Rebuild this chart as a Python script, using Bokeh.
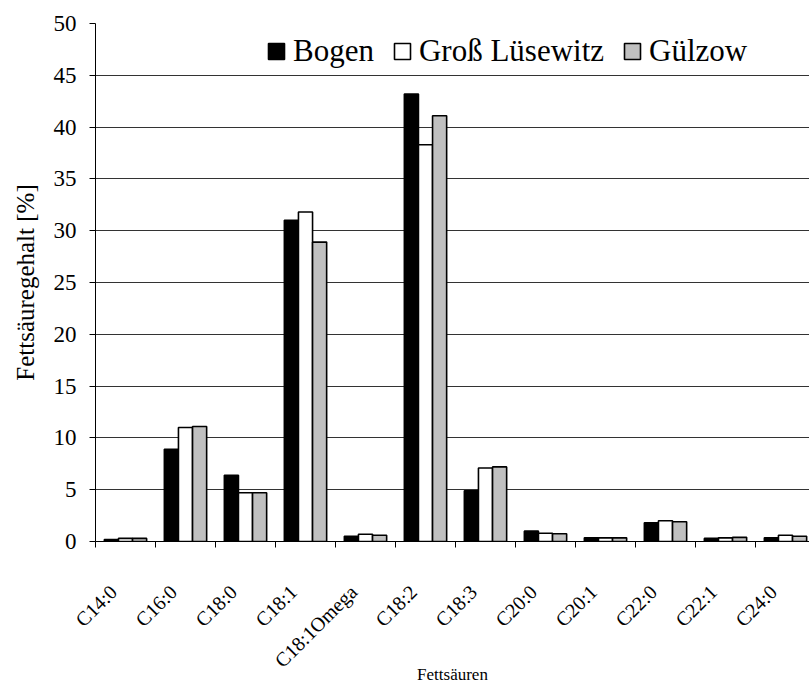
import math
from bokeh.plotting import figure
from bokeh.models import ColumnDataSource, Range1d, FixedTicker, Legend, LegendItem
from bokeh.transform import dodge
from bokeh.embed import file_html
from bokeh.resources import INLINE

# ---- data ----
categories = ["C14:0", "C16:0", "C18:0", "C18:1", "C18:1Omega", "C18:2",
              "C18:3", "C20:0", "C20:1", "C22:0", "C22:1", "C24:0"]
bogen = [0.2, 8.9, 6.4, 31.0, 0.5, 43.2, 4.9, 1.0, 0.35, 1.8, 0.3, 0.35]
gross_luesewitz = [0.3, 11.0, 4.7, 31.8, 0.7, 38.3, 7.1, 0.8, 0.35, 2.0, 0.35, 0.6]
guelzow = [0.3, 11.1, 4.7, 28.9, 0.6, 41.1, 7.2, 0.75, 0.35, 1.9, 0.4, 0.5]
series_names = ["Bogen", "Groß Lüsewitz", "Gülzow"]
y_ticks = [0, 5, 10, 15, 20, 25, 30, 35, 40, 45, 50]
x_title = "Fettsäuren"
y_title = "Fettsäuregehalt [%]"

FONT = "Liberation Serif"

centers = [i + 0.5 for i in range(len(categories))]
boundaries = list(range(len(categories) + 1))
# rotated labels sit a little left of the category centre (as in the reference)
label_pos = [round(c - 0.2, 2) for c in centers]

source = ColumnDataSource(dict(
    xc=centers,
    bogen=bogen,
    gross=gross_luesewitz,
    guelzow=guelzow,
))

p = figure(
    width=809, height=695,
    x_range=Range1d(0, 11.9), y_range=Range1d(0, 50),
    output_backend="svg", toolbar_location=None,
    min_border_left=95, min_border_top=23, min_border_right=0, min_border_bottom=154,
)
p.outline_line_color = None
p.background_fill_color = "white"

bw = 0.235
cols = ["bogen", "gross", "guelzow"]
fills = ["black", "white", "#c0c0c0"]
offsets = [-bw, 0.0, bw]
renderers = []
for col, fc, off in zip(cols, fills, offsets):
    r = p.vbar(x=dodge("xc", off, range=p.x_range), top=col, width=bw, bottom=0,
               source=source, fill_color=fc, line_color="black", line_width=1.6)
    renderers.append(r)

# grid
p.xgrid.visible = False
p.ygrid.ticker = FixedTicker(ticks=y_ticks)
p.ygrid.grid_line_color = "#333333"
p.ygrid.grid_line_width = 1

# y axis
ya = p.yaxis[0]
ya.ticker = FixedTicker(ticks=y_ticks)
ya.axis_label = y_title
ya.axis_label_text_font = FONT
ya.axis_label_text_font_style = "normal"
ya.axis_label_text_font_size = "25px"
ya.axis_label_text_color = "black"
ya.axis_label_standoff = 12
ya.major_label_text_font = FONT
ya.major_label_text_font_size = "23px"
ya.major_label_text_color = "black"
ya.major_label_standoff = 13
ya.major_tick_out = 6
ya.major_tick_in = 0
ya.minor_tick_out = 0
ya.minor_tick_in = 0
ya.axis_line_color = "black"
ya.major_tick_line_color = "black"

# x axis: labels near category centres, tick marks at category boundaries
xa = p.xaxis[0]
xa.ticker = FixedTicker(ticks=label_pos, minor_ticks=boundaries)
xa.major_label_overrides = {c: lab for c, lab in zip(label_pos, categories)}
xa.major_label_orientation = math.pi / 4
xa.major_label_text_font = FONT
xa.major_label_text_font_size = "20px"
xa.major_label_text_color = "black"
xa.major_label_standoff = 41
xa.major_tick_line_color = None
xa.major_tick_out = 0
xa.major_tick_in = 0
xa.minor_tick_line_color = "black"
xa.minor_tick_out = 6
xa.minor_tick_in = 0
xa.axis_line_color = "black"
xa.axis_label = x_title
xa.axis_label_text_font = FONT
xa.axis_label_text_font_style = "normal"
xa.axis_label_text_font_size = "17px"
xa.axis_label_text_color = "black"
xa.axis_label_standoff = -17

legend = Legend(
    items=[LegendItem(label=n, renderers=[r]) for n, r in zip(series_names, renderers)],
    orientation="horizontal",
    location=(171, 472),
    label_text_font=FONT,
    label_text_font_size="31px",
    label_text_color="black",
    glyph_width=20, glyph_height=20,
    spacing=18, label_standoff=7, padding=10, margin=0,
    border_line_color=None, background_fill_color="white", background_fill_alpha=1.0,
)
p.add_layout(legend)

open("out.html", "w").write(file_html(p, INLINE))
